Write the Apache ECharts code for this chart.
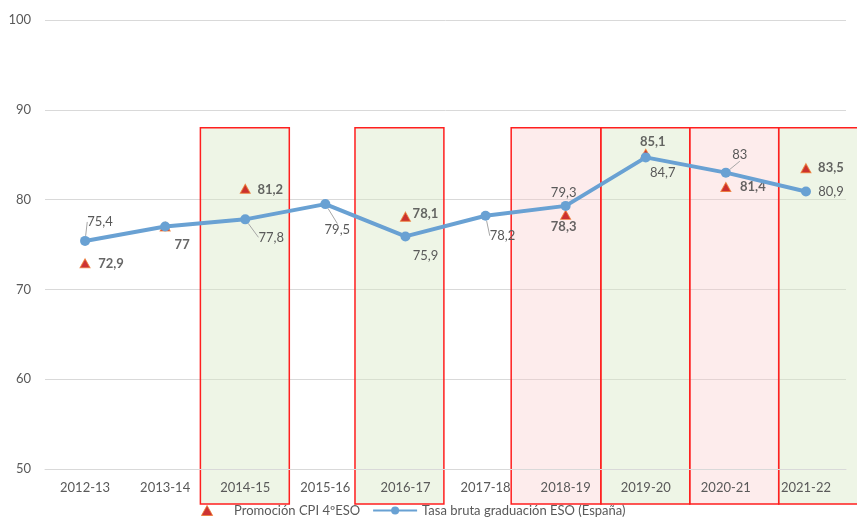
<!DOCTYPE html>
<html>
<head>
<meta charset="utf-8">
<script src="https://cdn.jsdelivr.net/npm/echarts@6/dist/echarts.min.js"></script>
<style>
    html, body { margin: 0; padding: 0; background: #fff; }
    #main { width: 857px; height: 523px; }
</style>
</head>
<body>
<div id="main"></div>
<script>
    // datos
    var cursos = ['2012-13', '2013-14', '2014-15', '2015-16', '2016-17', '2017-18', '2018-19', '2019-20', '2020-21', '2021-22'];
    var tasaGraduacion = [75.4, 77, 77.8, 79.5, 75.9, 78.2, 79.3, 84.7, 83, 80.9];
    var promocionCPI = [72.9, 77, 81.2, '-', 78.1, '-', 78.3, 85.1, 81.4, 83.5];
    var yMin = 50, yMax = 100, yPaso = 10;
    var cursosVerdes = ['2014-15', '2016-17', '2019-20', '2021-22'];
    var cursosRojos = ['2018-19', '2020-21'];

    // cajas: curso, borde izq y der (en anchos de categoria respecto al centro)
    var cajas = [
        ['2014-15', -0.56, 0.55],
        ['2016-17', -0.63, 0.48],
        ['2018-19', -0.68, 0.44],
        ['2019-20', -0.56, 0.55],
        ['2020-21', -0.45, 0.66],
        ['2021-22', -0.34, 0.70]
    ];
    var cajaTope = 88;       // valor del borde superior
    var cajaBajo = 35;       // px por debajo del eje

    // desplazamiento de etiquetas (px) y lineas guia
    var despTasa = [[15, -19], null, [26, 18], [12, 26], [20, 19], [17, 20], [-2, -13], [17, 15], [14, -18], [25, 0]];
    var guiaTasa = [true, false, true, true, false, true, false, false, true, false];
    var despCPI = [[26, 0], [17, 18], [25, 1], null, [20, -3], null, [-2, 12], [7, -12], [27, 0], [25, 0]];

    var fuente = 'Lato, "Open Sans", sans-serif';
    var azul = '#69a1d3';
    var rojoTri = '#c00000';
    var bordeTri = '#ee7b30';

    function coma(v) {
        return String(v).replace('.', ',');
    }

    function colocar(desp) {
        return function (p) {
            var d = desp[p.dataIndex];
            if (!d) return {};
            return {
                x: p.rect.x + p.rect.width / 2 + d[0],
                y: p.rect.y + p.rect.height / 2 + d[1],
                align: 'center',
                verticalAlign: 'middle'
            };
        };
    }

    var myChart = echarts.init(document.getElementById('main'));
    var option = {
        animation: false,
        textStyle: { fontFamily: fuente },
        grid: { left: 45, right: 11, top: 20, bottom: 54 },
        legend: {
            data: [
                {
                    name: 'Promoción CPI 4ºESO',
                    icon: 'path://M5,0 L10,9 L0,9 Z',
                    itemStyle: { color: rojoTri, borderColor: bordeTri, borderWidth: 1 }
                },
                'Tasa bruta graduación ESO (España)'
            ],
            bottom: 1,
            left: 196,
            itemWidth: 44,
            itemHeight: 10,
            itemGap: 12,
            symbolKeepAspect: true,
            textStyle: { color: '#595959', fontSize: 13, fontFamily: fuente }
        },
        xAxis: {
            type: 'category',
            data: cursos,
            z: 5,
            axisLine: { lineStyle: { color: '#d9d9d9' } },
            axisTick: { show: false },
            axisLabel: { color: '#595959', fontSize: 13, margin: 12 }
        },
        yAxis: {
            type: 'value',
            min: yMin,
            max: yMax,
            interval: yPaso,
            axisLine: { show: false },
            axisTick: { show: false },
            axisLabel: { color: '#595959', fontSize: 13, margin: 14 },
            splitLine: { lineStyle: { color: '#d9d9d9', width: 1 } }
        },
        series: [
            {
                type: 'custom',
                z: 1,
                silent: true,
                clip: false,
                data: cajas.map(function (c) { return [c[0], cajaTope]; }),
                encode: { x: 0, y: 1 },
                renderItem: function (params, api) {
                    var c = cajas[params.dataIndex];
                    var idx = cursos.indexOf(c[0]);
                    var arriba = api.coord([idx, cajaTope]);
                    var eje = api.coord([idx, yMin]);
                    var banda = api.size([1, 0])[0];
                    var x0 = arriba[0] + c[1] * banda;
                    var x1 = arriba[0] + c[2] * banda;
                    var verde = cursosVerdes.indexOf(c[0]) >= 0;
                    return {
                        type: 'rect',
                        shape: { x: x0, y: arriba[1], width: x1 - x0, height: eje[1] + cajaBajo - arriba[1] },
                        style: {
                            fill: verde ? 'rgba(214,232,196,0.42)' : 'rgba(248,200,200,0.35)',
                            stroke: '#ff1f1f',
                            lineWidth: 1.5
                        }
                    };
                }
            },
            {
                name: 'Promoción CPI 4ºESO',
                type: 'scatter',
                z: 2,
                data: promocionCPI,
                symbol: 'triangle',
                symbolSize: [10, 9],
                itemStyle: { color: rojoTri, borderColor: bordeTri, borderWidth: 1 },
                label: {
                    show: true,
                    position: 'inside',
                    fontWeight: 'bold',
                    fontSize: 13,
                    color: '#404040',
                    formatter: function (p) { return coma(p.value); }
                },
                labelLayout: colocar(despCPI)
            },
            {
                name: 'Tasa bruta graduación ESO (España)',
                type: 'line',
                z: 3,
                data: tasaGraduacion.map(function (v, i) {
                    return {
                        value: v,
                        label: { show: despTasa[i] !== null },
                        labelLine: { show: guiaTasa[i] }
                    };
                }),
                symbol: 'circle',
                symbolSize: 10,
                lineStyle: { color: azul, width: 4 },
                itemStyle: { color: azul },
                label: {
                    show: true,
                    position: 'inside',
                    fontSize: 13,
                    color: '#595959',
                    formatter: function (p) { return coma(p.value); }
                },
                labelLine: { show: true, lineStyle: { color: '#a6a6a6', width: 1 } },
                labelLayout: colocar(despTasa)
            }
        ]
    };
    myChart.setOption(option);
</script>
</body>
</html>
